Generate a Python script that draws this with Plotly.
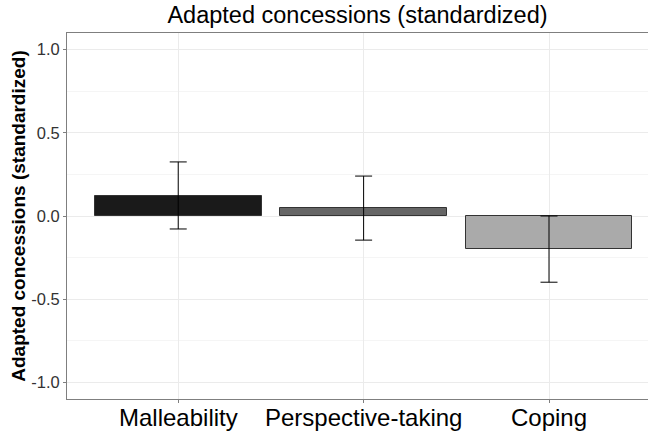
import plotly.graph_objects as go

categories = ["Malleability", "Perspective-taking", "Coping"]
means = [0.12, 0.048, -0.199]
upper = [0.325, 0.24, 0.0]
lower = [-0.078, -0.145, -0.398]
bar_colors = ["#1a1a1a", "#666666", "#aaaaaa"]
y_ticks = [-1.0, -0.5, 0.0, 0.5, 1.0]

err_plus = [u - m for u, m in zip(upper, means)]
err_minus = [m - l for m, l in zip(means, lower)]
xs = [1, 2, 3]

fig = go.Figure()
fig.add_trace(go.Bar(
    x=xs, y=means, width=0.9,
    marker=dict(color=bar_colors, line=dict(color="#333333", width=1)),
    error_y=dict(type="data", symmetric=False, array=err_plus, arrayminus=err_minus,
                 color="black", thickness=1, width=8.5),
    showlegend=False,
))

# category labels placed under the axis (tick positions from the x axis)
for xv, lab in zip(xs, categories):
    fig.add_annotation(x=xv, xref="x", y=0, yref="paper", text=lab, showarrow=False,
                       xanchor="center", yanchor="top", yshift=-3,
                       font=dict(size=24, color="black"))

fig.update_layout(
    width=648, height=433,
    margin=dict(l=67, r=0, t=33, b=34, autoexpand=False),
    paper_bgcolor="white", plot_bgcolor="white",
    font=dict(family="Liberation Sans, Arial, sans-serif", color="black"),
    title=dict(text="Adapted concessions (standardized)", x=0.5, xref="paper",
               xanchor="center", y=1 - 15 / 433, yref="container", yanchor="middle",
               font=dict(size=23.5, color="black"), automargin=False),
    bargap=0,
)
fig.update_xaxes(
    range=[0.4, 3.534], tickmode="array", tickvals=xs, ticktext=categories,
    showticklabels=False, automargin=False,
    showgrid=True, gridcolor="#ebebeb", gridwidth=1,
    showline=True, linecolor="#7f7f7f", linewidth=1, mirror=True,
    ticks="outside", ticklen=3, tickcolor="#7f7f7f", zeroline=False,
)
fig.update_yaxes(
    range=[-1.1, 1.1], tickmode="array", tickvals=y_ticks,
    ticktext=[f"{v:.1f}" for v in y_ticks], automargin=False,
    tickfont=dict(size=16.5, color="#333333"),
    title=dict(text="<b>Adapted concessions (standardized)</b>", font=dict(size=19, color="black"), standoff=0),
    showgrid=True, gridcolor="#ebebeb", gridwidth=1,
    minor=dict(tickvals=[-0.75, -0.25, 0.25, 0.75], showgrid=True, gridcolor="#f5f5f5", gridwidth=1),
    showline=True, linecolor="#7f7f7f", linewidth=1, mirror=False,
    ticks="outside", ticklen=3, tickcolor="#7f7f7f", zeroline=False,
)

fig.write_html("out.html", config={"displayModeBar": False},
               post_script="document.body.style.margin='0';document.body.style.overflow='hidden';")
